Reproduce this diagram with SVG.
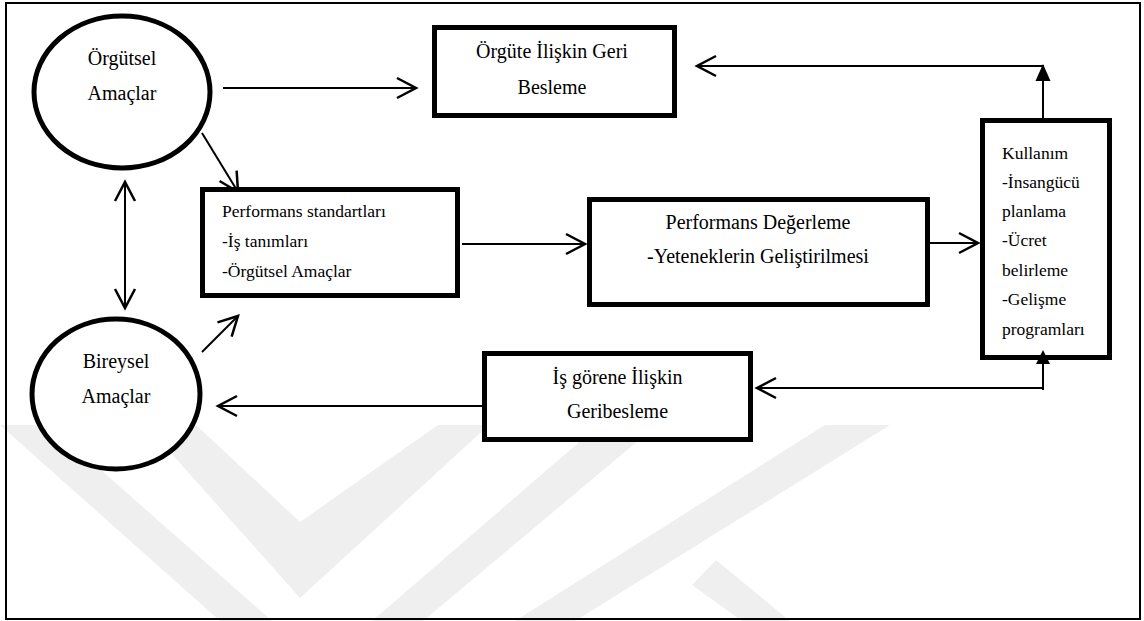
<svg xmlns="http://www.w3.org/2000/svg" width="1144" height="621" viewBox="0 0 1144 621">
<style>
.box{fill:#fff;stroke:#000;stroke-width:5}
.ell{fill:#fff;stroke:#000;stroke-width:5}
.t20{font-size:20px}
.t17{font-size:17.5px}
.c{fill:none;stroke:#000;stroke-width:2}
.wm{fill:#efefef}
</style>
<defs>
<marker id="open" markerUnits="userSpaceOnUse" markerWidth="30" markerHeight="30" viewBox="-24 -15 30 30" refX="0" refY="0" orient="auto-start-reverse" overflow="visible">
<path d="M-19,-10 L0,0 L-19,10" fill="none" stroke="#000" stroke-width="2.5"/>
</marker>
</defs>
<rect width="1144" height="621" fill="#fff"/>
<g id="watermark">
<polygon class="wm" points="0,425 50,425 272,621 220,621"/>
<polygon class="wm" points="146,425 196,425 300,522 438,425 489,425 300,598"/>
<polygon class="wm" points="599,425 657,425 423,621 372,621"/>
<polygon class="wm" points="825,425 890,425 575,621 515,621"/>
<polygon class="wm" points="692,585 716,560 790,621 742,621"/>
</g>
<rect x="6" y="3" width="1134" height="616" fill="none" stroke="#000" stroke-width="2"/>
<g id="connectors">
<path class="c" d="M223,88 H416" marker-end="url(#open)"/>
<path class="c" d="M202,133 L238,192" marker-end="url(#open)"/>
<path class="c" d="M125,182 V308" marker-start="url(#open)" marker-end="url(#open)"/>
<path class="c" d="M202,352 L238,316" marker-end="url(#open)"/>
<path class="c" d="M462,244 H585" marker-end="url(#open)"/>
<path class="c" d="M930,243 H978" marker-end="url(#open)"/>
<path class="c" d="M1043,118 V66 H697" marker-end="url(#open)"/>
<polygon points="1043,64 1035.5,81 1050.5,81" fill="#000"/>
<path class="c" d="M1043,390 V362 M1043,388 H757" marker-end="url(#open)"/>
<path class="c" d="M482,406 H218" marker-end="url(#open)"/>
</g>
<g font-family="'Liberation Serif', 'Times New Roman', Times, serif" fill="#000">
<g id="orgutsel-amaclar">
<ellipse class="ell" cx="122" cy="92" rx="88" ry="76"/>
<text class="t20" x="122" y="65" text-anchor="middle">Örgütsel</text>
<text class="t20" x="122" y="100" text-anchor="middle">Amaçlar</text>
</g>
<g id="bireysel-amaclar">
<ellipse class="ell" cx="116" cy="394" rx="84" ry="75"/>
<text class="t20" x="116" y="368" text-anchor="middle">Bireysel</text>
<text class="t20" x="116" y="403" text-anchor="middle">Amaçlar</text>
</g>
<g id="orgute-geri-besleme">
<rect class="box" x="434.5" y="27.5" width="240" height="88"/>
<text class="t20" x="552" y="58" text-anchor="middle">Örgüte İlişkin Geri</text>
<text class="t20" x="552" y="94" text-anchor="middle">Besleme</text>
</g>
<g id="performans-standartlari">
<rect class="box" x="202.5" y="189.5" width="255" height="106"/>
<text class="t17" x="222" y="217">Performans standartları</text>
<text class="t17" x="222" y="247">-İş tanımları</text>
<text class="t17" x="222" y="277">-Örgütsel Amaçlar</text>
</g>
<g id="performans-degerleme">
<rect class="box" x="589.5" y="199.5" width="338" height="105"/>
<text class="t20" x="758" y="229" text-anchor="middle">Performans Değerleme</text>
<text class="t20" x="758" y="263" text-anchor="middle">-Yeteneklerin Geliştirilmesi</text>
</g>
<g id="kullanim">
<rect class="box" x="982.5" y="120.5" width="127" height="237"/>
<text class="t17" x="1002" y="159">Kullanım</text>
<text class="t17" x="1002" y="188">-İnsangücü</text>
<text class="t17" x="1002" y="217">planlama</text>
<text class="t17" x="1002" y="246">-Ücret</text>
<text class="t17" x="1002" y="276">belirleme</text>
<text class="t17" x="1002" y="305">-Gelişme</text>
<text class="t17" x="1002" y="335">programları</text>
</g>
<polygon points="1043,350 1036,364 1050,364" fill="#000"/>
<g id="is-gorene-geribesleme">
<rect class="box" x="484.5" y="353.5" width="266" height="86"/>
<text class="t20" x="617.5" y="384" text-anchor="middle">İş görene İlişkin</text>
<text class="t20" x="617.5" y="418" text-anchor="middle">Geribesleme</text>
</g>
</g>
</svg>
